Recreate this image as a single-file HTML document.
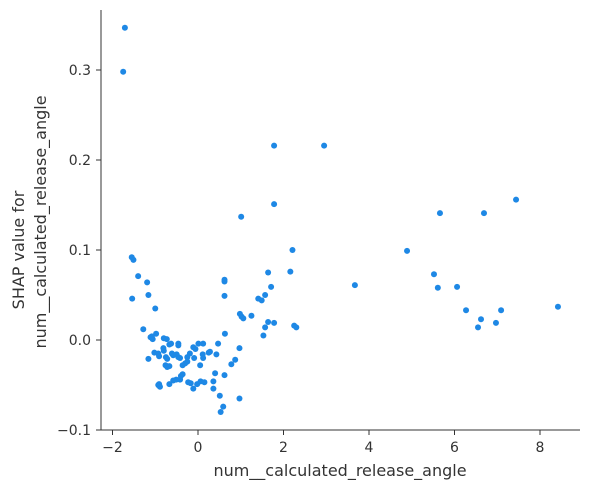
<!DOCTYPE html>
<html><head><meta charset="utf-8"><style>
body{margin:0;background:#fff;}
svg text{font-family:"DejaVu Sans","Liberation Sans",sans-serif;fill:#333;}
</style></head><body>
<svg id="chart" width="590" height="489"></svg>
<script>
const xValues=[-1.55,-1.51,-1.40,-1.19,-1.16,-1.54,-1.00,-1.28,-0.98,-1.08,-1.06,-1.11,-0.80,-0.73,-0.63,-0.67,-0.46,-0.46,0.01,0.12,-0.11,-0.06,0.47,0.63,0.97,-1.02,-0.93,-0.91,-0.81,-0.80,-1.16,-0.75,-0.72,-0.61,-0.58,-0.50,-0.46,-0.42,-0.19,-0.25,-0.09,0.11,0.12,0.25,0.28,0.43,-0.76,-0.72,-0.67,-0.36,-0.30,-0.25,0.05,0.87,0.78,0.40,0.62,-0.36,-0.40,-0.93,-0.89,-0.91,-0.67,-0.58,-0.51,-0.42,-0.23,-0.17,-0.11,-0.02,0.06,0.15,0.36,0.36,0.51,0.59,0.53,0.97,2.21,1.64,2.16,1.71,1.57,1.41,1.49,0.62,0.62,0.62,0.98,1.02,1.06,1.25,1.64,1.78,1.57,1.53,2.25,2.30,-1.71,-1.75,1.78,2.95,1.78,1.01,3.67,4.89,5.52,5.61,5.66,6.06,6.27,6.55,6.62,6.97,7.09,7.44,8.42,6.69];
const yValues=[0.092,0.089,0.071,0.064,0.050,0.046,0.035,0.012,0.007,0.004,0.001,0.003,0.002,0.001,-0.004,-0.005,-0.004,-0.006,-0.004,-0.004,-0.008,-0.010,-0.004,0.007,-0.009,-0.014,-0.015,-0.018,-0.009,-0.012,-0.021,-0.019,-0.021,-0.015,-0.017,-0.016,-0.019,-0.020,-0.015,-0.019,-0.020,-0.016,-0.020,-0.014,-0.013,-0.016,-0.028,-0.030,-0.029,-0.028,-0.026,-0.024,-0.028,-0.022,-0.027,-0.037,-0.039,-0.038,-0.040,-0.050,-0.052,-0.049,-0.049,-0.045,-0.044,-0.044,-0.047,-0.048,-0.054,-0.049,-0.046,-0.047,-0.046,-0.054,-0.062,-0.074,-0.080,-0.065,0.100,0.075,0.076,0.059,0.050,0.046,0.044,0.067,0.065,0.049,0.029,0.026,0.024,0.027,0.020,0.019,0.014,0.005,0.016,0.014,0.347,0.298,0.216,0.216,0.151,0.137,0.061,0.099,0.073,0.058,0.141,0.059,0.033,0.014,0.023,0.019,0.033,0.156,0.037,0.141];
const xTicks=[-2,0,2,4,6,8];
const yTicks=[-0.1,0.0,0.1,0.2,0.3];
const yTickLabels=["\u22120.1","0.0","0.1","0.2","0.3"];
const xTickLabels=["\u22122","0","2","4","6","8"];

const L=101,R=580,T=10,B=430;
const xs=v=>198+(v)*42.75;
const ys=v=>340-v*900;
const svg=document.getElementById('chart');
const NS='http://www.w3.org/2000/svg';
function mk(tag,attrs){const e=document.createElementNS(NS,tag);for(const k in attrs)e.setAttribute(k,attrs[k]);svg.appendChild(e);return e;}

let e;
e=mk('line',{x1:L,y1:T,x2:L,y2:B+0.5,stroke:'#333','stroke-width':1});


e=mk('line',{x1:L-0.5,y1:B,x2:R,y2:B,stroke:'#333','stroke-width':1});



xTicks.forEach((t,i)=>{
  const x=xs(t);
  e=mk('line',{x1:x,y1:B,x2:x,y2:B+5,stroke:'#333'});
  
  
  e=mk('text',{x:x,y:B+22,'text-anchor':'middle','font-size':14});
  e.textContent=xTickLabels[i];
  
  
});
yTicks.forEach((t,i)=>{
  const y=ys(t);
  e=mk('line',{x1:L-5,y1:y,x2:L,y2:y,stroke:'#333'});
  
  
  e=mk('text',{x:L-10,y:y+5,'text-anchor':'end','font-size':14});
  e.textContent=yTickLabels[i];
  
  
});
xValues.forEach((v,i)=>{
  e=mk('circle',{cx:xs(v),cy:ys(yValues[i]),r:3,fill:'#1e88e5'});
  
  
});
e=mk('text',{x:340,y:476,'text-anchor':'middle','font-size':16});
e.textContent='num__calculated_release_angle';


e=mk('text',{x:0,y:0,'text-anchor':'middle','font-size':16,transform:'translate(24,250) rotate(-90)'});
e.textContent='SHAP value for';


e=mk('text',{x:0,y:0,'text-anchor':'middle','font-size':16,transform:'translate(46,222) rotate(-90)'});
e.textContent='num__calculated_release_angle';


</script>
</body></html>
